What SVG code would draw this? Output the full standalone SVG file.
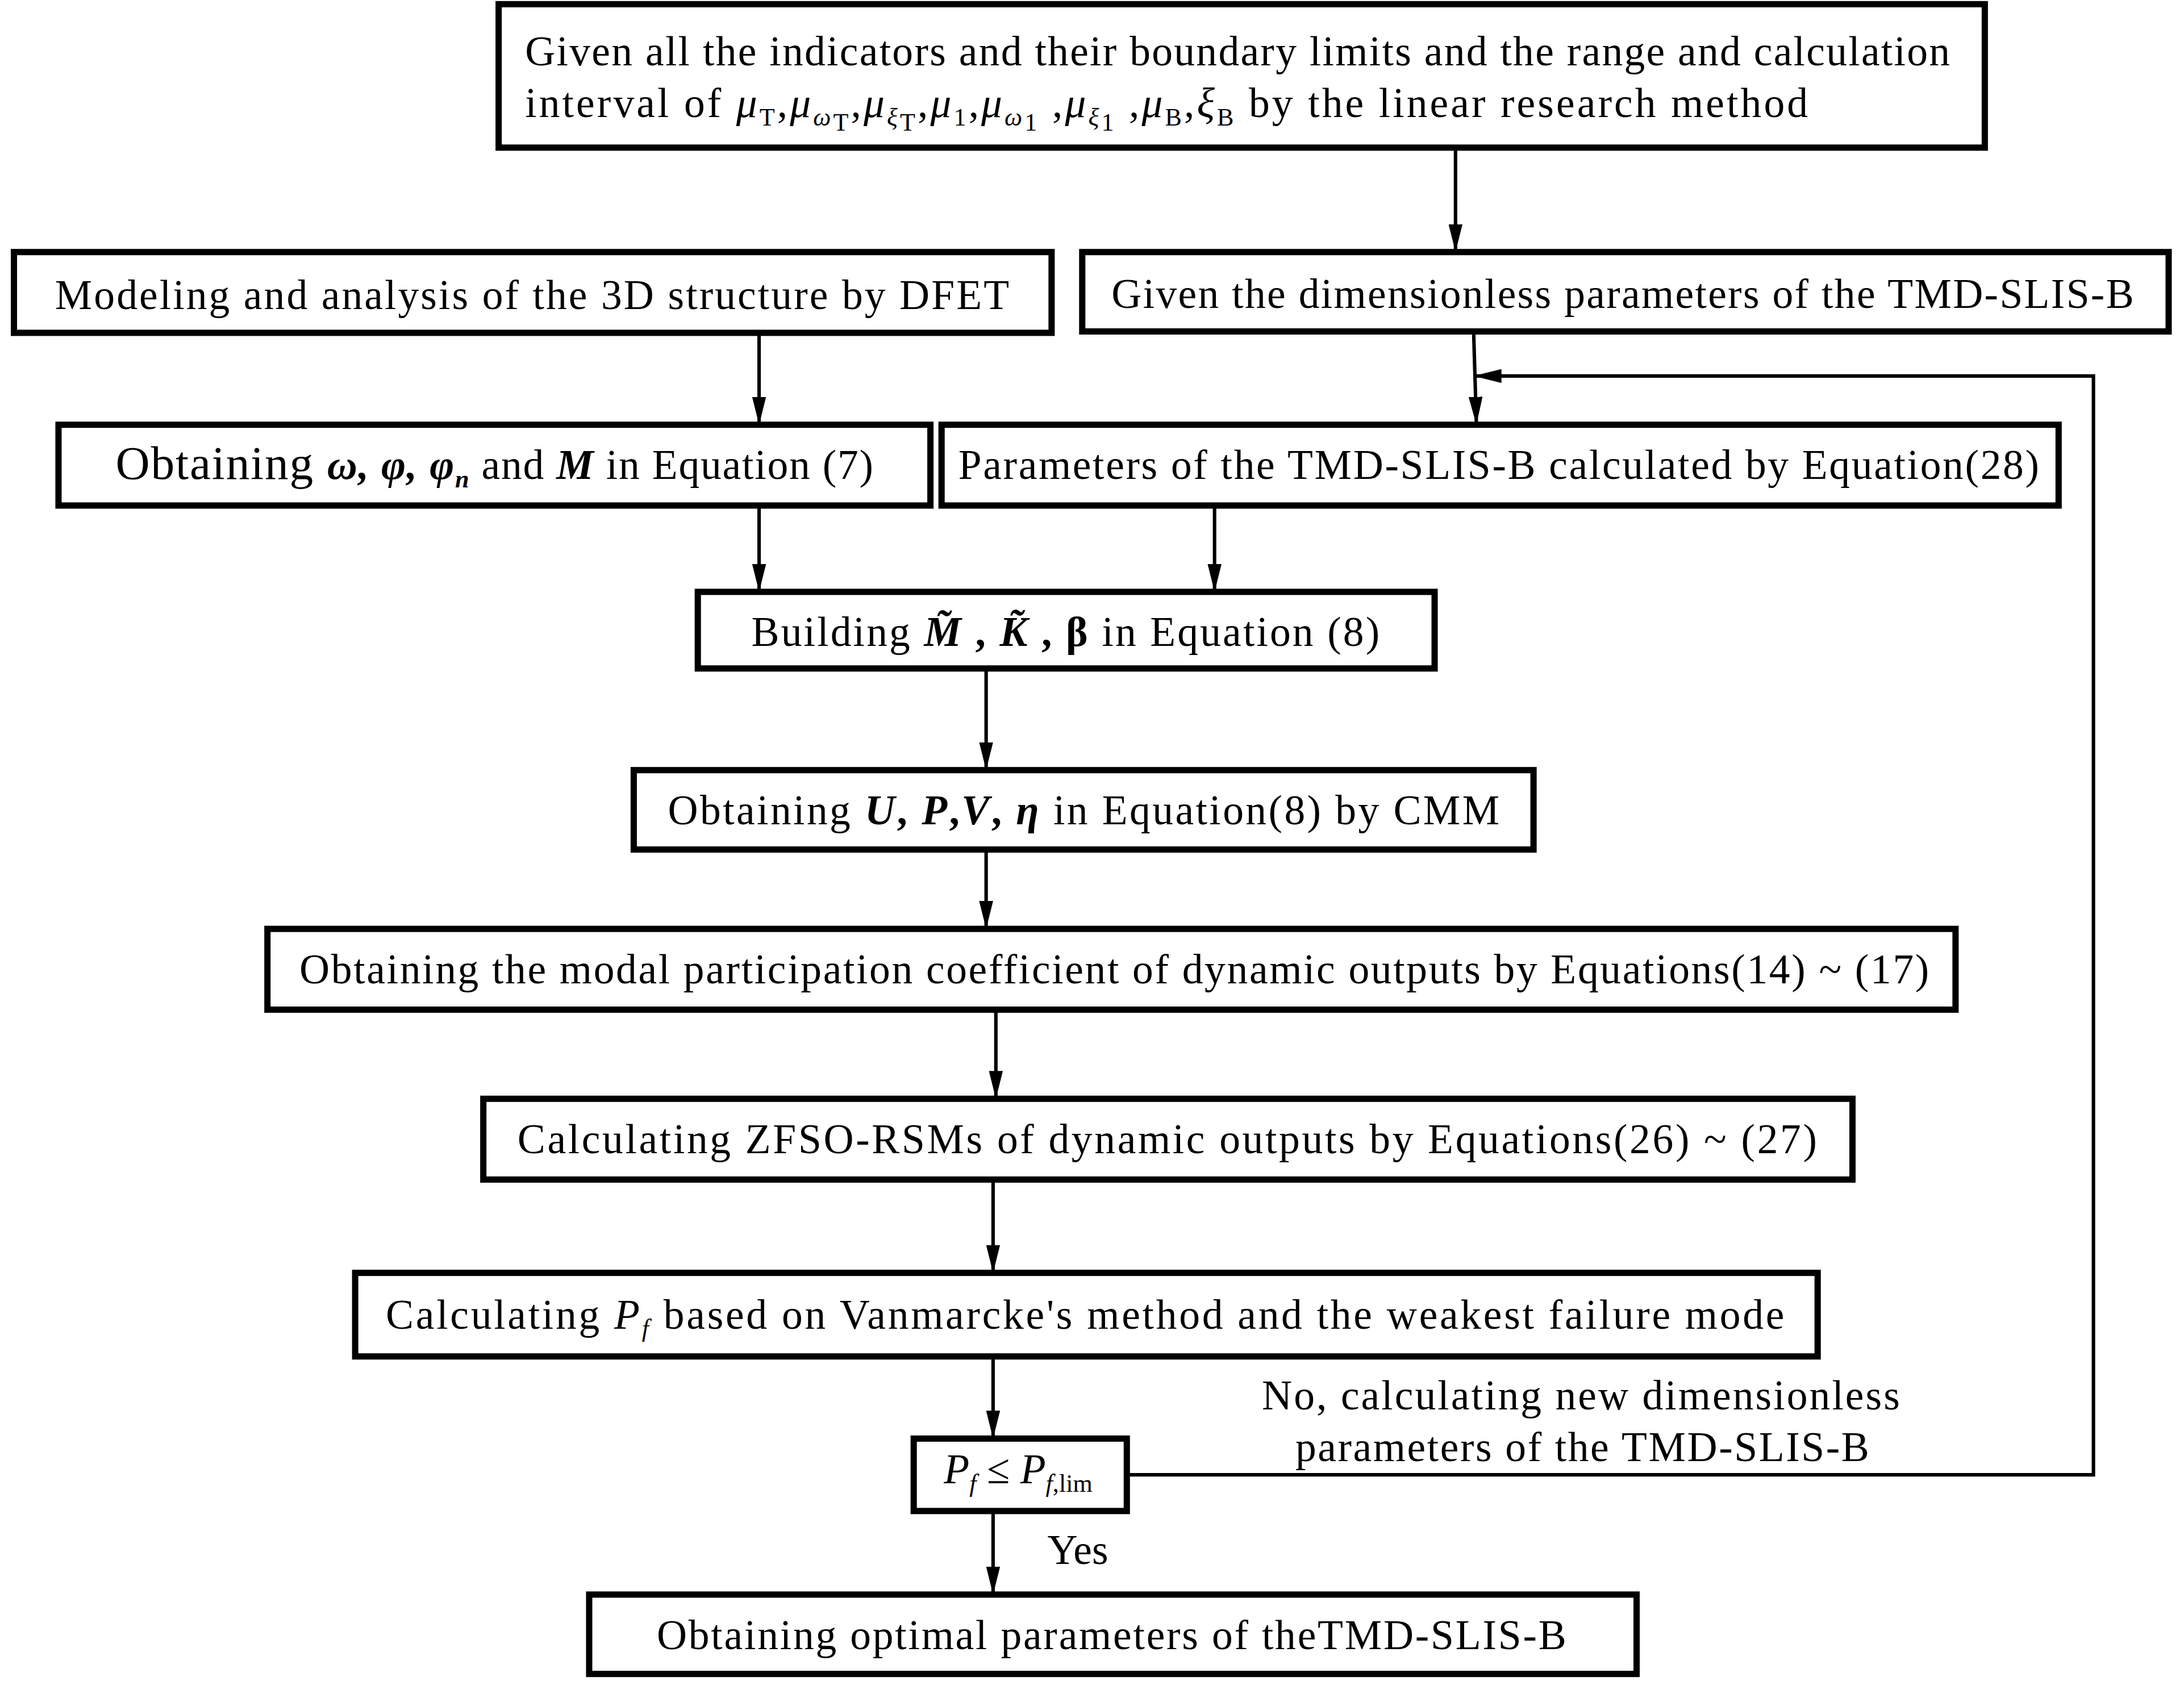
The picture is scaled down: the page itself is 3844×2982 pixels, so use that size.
<svg xmlns="http://www.w3.org/2000/svg" width="3844" height="2982" viewBox="0 0 3844 2982">
<style>
.box{fill:#fff;stroke:#000;stroke-width:4.5}
.edge{fill:none;stroke:#000;stroke-width:2.5}
text{font-family:"Liberation Serif","Times New Roman",serif;font-size:30px;fill:#000}
.c{text-anchor:middle}
.i{font-style:italic}
.b{font-weight:bold;font-style:italic}
.s{font-size:18px}
</style>
<defs>
<marker id="ah" markerWidth="20" markerHeight="10" refX="20" refY="5" viewBox="0 0 20 10" orient="auto" markerUnits="userSpaceOnUse">
<path d="M0,0 L20,5 L0,10 Z" fill="#000"/>
</marker>
</defs>
<rect width="3844" height="2982" fill="#fff"/>
<g transform="scale(2.4515)">
<g id="connectors">
<path class="edge" d="M1045,106 V181" marker-end="url(#ah)"/>
<path class="edge" d="M545,239 V305" marker-end="url(#ah)"/>
<path class="edge" d="M1058,238 L1060,305" marker-end="url(#ah)"/>
<path class="edge" d="M809,1059 H1503 V270 H1058" marker-end="url(#ah)"/>
<path class="edge" d="M545,363 V425" marker-end="url(#ah)"/>
<path class="edge" d="M872,363 V425" marker-end="url(#ah)"/>
<path class="edge" d="M708,480 V553" marker-end="url(#ah)"/>
<path class="edge" d="M708,610 V667" marker-end="url(#ah)"/>
<path class="edge" d="M715,725 V789" marker-end="url(#ah)"/>
<path class="edge" d="M713,847 V914" marker-end="url(#ah)"/>
<path class="edge" d="M713,974 V1033" marker-end="url(#ah)"/>
<path class="edge" d="M713,1085 V1145" marker-end="url(#ah)"/>
<text x="1135" y="1012" class="c" textLength="458">No, calculating  new dimensionless</text>
<text x="1136" y="1049" class="c" textLength="412">parameters of the TMD-SLIS-B</text>
<text x="752" y="1123">Yes</text>
</g>
<g id="n1">
<rect class="box" x="358" y="3" width="1067" height="103"/>
<text x="377" y="47" textLength="1023">Given all the indicators and their boundary limits and  the range and calculation</text>
<text x="377" y="84" textLength="921">interval of  <tspan class="i">μ</tspan><tspan class="s" dy="6">T</tspan><tspan dy="-6">,</tspan><tspan class="i">μ</tspan><tspan class="s i" dy="6">ω</tspan><tspan class="s" dy="4">T</tspan><tspan dy="-10">,</tspan><tspan class="i">μ</tspan><tspan class="s i" dy="6">ξ</tspan><tspan class="s" dy="4">T</tspan><tspan dy="-10">,</tspan><tspan class="i">μ</tspan><tspan class="s" dy="6">1</tspan><tspan dy="-6">,</tspan><tspan class="i">μ</tspan><tspan class="s i" dy="6">ω</tspan><tspan class="s" dy="4">1</tspan><tspan dy="-10"> ,</tspan><tspan class="i">μ</tspan><tspan class="s i" dy="6">ξ</tspan><tspan class="s" dy="4">1</tspan><tspan dy="-10"> ,</tspan><tspan class="i">μ</tspan><tspan class="s" dy="6">B</tspan><tspan dy="-6">,</tspan><tspan class="i">ξ</tspan><tspan class="s" dy="6">B</tspan><tspan dy="-6">    by the linear research method</tspan></text>
</g>
<g id="n2">
<rect class="box" x="10" y="181" width="745" height="58"/>
<text x="382" y="222" class="c" textLength="685">Modeling and analysis of the 3D structure  by  DFET</text>
</g>
<g id="n3">
<rect class="box" x="777" y="181" width="780" height="57"/>
<text x="1165" y="221" class="c" textLength="734">Given the dimensionless parameters of the TMD-SLIS-B</text>
</g>
<g id="n4">
<rect class="box" x="42" y="305" width="626" height="58"/>
<text x="355" y="344" class="c" textLength="544"><tspan font-size="34">Obtaining </tspan><tspan class="b">ω, φ, φ</tspan><tspan class="b s" dy="6">n</tspan><tspan dy="-6"> and </tspan><tspan class="b">M</tspan> in Equation (7)</text>
</g>
<g id="n5">
<rect class="box" x="676" y="305" width="802" height="58"/>
<text x="1076" y="344" class="c" textLength="776">Parameters of the TMD-SLIS-B  calculated by Equation(28)</text>
</g>
<g id="n6">
<rect class="box" x="501" y="425" width="529" height="55"/>
<text x="765" y="464" class="c" textLength="451">Building  <tspan class="b">M̃</tspan><tspan font-weight="bold"> , </tspan><tspan class="b">K̃</tspan><tspan font-weight="bold"> , β</tspan>  in Equation (8)</text>
</g>
<g id="n7">
<rect class="box" x="455" y="553" width="646" height="57"/>
<text x="778" y="592" class="c" textLength="597">Obtaining  <tspan class="b">U</tspan><tspan font-weight="bold">, </tspan><tspan class="b">P</tspan><tspan font-weight="bold">,</tspan><tspan class="b">V</tspan><tspan font-weight="bold">, </tspan><tspan class="b">η</tspan>   in Equation(8) by CMM</text>
</g>
<g id="n8">
<rect class="box" x="192" y="667" width="1212" height="58"/>
<text x="800" y="706" class="c" textLength="1170">Obtaining  the modal participation  coefficient of dynamic outputs by Equations(14) ~ (17)</text>
</g>
<g id="n9">
<rect class="box" x="347" y="789" width="983" height="58"/>
<text x="838" y="828" class="c" textLength="933">Calculating  ZFSO-RSMs   of  dynamic outputs by Equations(26) ~ (27)</text>
</g>
<g id="n10">
<rect class="box" x="255" y="914" width="1050" height="60"/>
<text x="779" y="954" class="c" textLength="1004">Calculating    <tspan class="i">P</tspan><tspan class="i s" dy="6">f</tspan><tspan dy="-6">  based on  Vanmarcke's method and  the weakest failure mode</tspan></text>
</g>
<g id="n11">
<rect class="box" x="656" y="1033" width="153" height="52"/>
<text x="731" y="1065" class="c"><tspan class="i">P</tspan><tspan class="i s" dy="6">f</tspan><tspan dy="-6"> ≤ </tspan><tspan class="i">P</tspan><tspan class="i s" dy="6">f</tspan><tspan class="s">,lim</tspan></text>
</g>
<g id="n12">
<rect class="box" x="423" y="1145" width="752" height="57"/>
<text x="798" y="1184" class="c" textLength="653">Obtaining optimal parameters of  theTMD-SLIS-B</text>
</g>
</g>
</svg>
